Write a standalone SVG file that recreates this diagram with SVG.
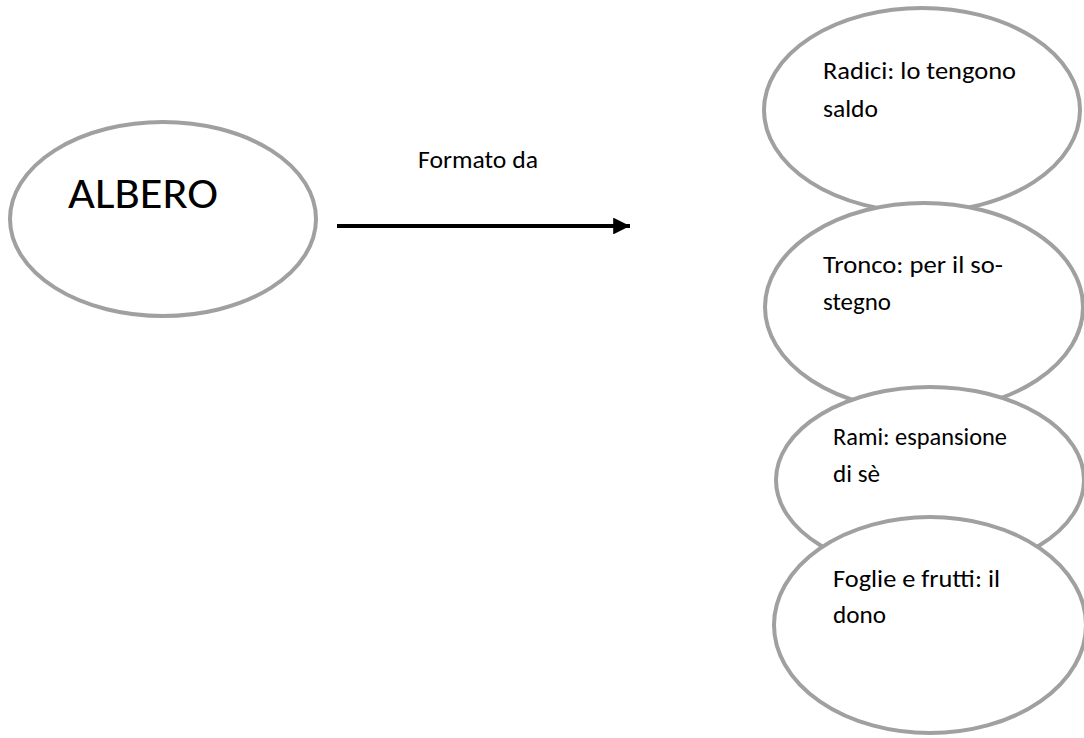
<svg xmlns="http://www.w3.org/2000/svg" width="1084" height="738" viewBox="0 0 1084 738">
<style>
.node{fill:#ffffff;stroke:#a0a0a0;stroke-width:4}
.t{font-family:Carlito,Lato,"Liberation Sans",sans-serif;font-size:24px;fill:#000}
.big{font-size:43px}
</style>
<defs>
<marker id="ah" viewBox="0 0 10 10" refX="10" refY="5" markerWidth="4.2" markerHeight="4.2" markerUnits="strokeWidth" orient="auto">
<path d="M0,0 L10,5 L0,10 z" fill="#000"/>
</marker>
</defs>
<rect width="1084" height="738" fill="#fff"/>
<g id="albero">
<ellipse class="node" cx="163" cy="219" rx="153" ry="97"/>
<text class="t big" x="68" y="208" textLength="150" lengthAdjust="spacingAndGlyphs">ALBERO</text>
</g>
<g id="connectors">
<line x1="337" y1="226" x2="630" y2="226" stroke="#000" stroke-width="4" marker-end="url(#ah)"/>
<text class="t" x="418" y="168" textLength="120" lengthAdjust="spacingAndGlyphs">Formato da</text>
</g>
<g id="radici">
<ellipse class="node" cx="922" cy="110" rx="158" ry="102"/>
<text class="t" x="823" y="79" textLength="193" lengthAdjust="spacingAndGlyphs">Radici: lo tengono</text>
<text class="t" x="823" y="117" textLength="55" lengthAdjust="spacingAndGlyphs">saldo</text>
</g>
<g id="tronco">
<ellipse class="node" cx="924" cy="307" rx="159" ry="104"/>
<text class="t" x="823" y="273" textLength="180" lengthAdjust="spacingAndGlyphs">Tronco: per il so-</text>
<text class="t" x="823" y="310" textLength="68" lengthAdjust="spacingAndGlyphs">stegno</text>
</g>
<g id="rami">
<ellipse class="node" cx="930" cy="480" rx="154" ry="93"/>
<text class="t" x="833" y="445" textLength="174" lengthAdjust="spacingAndGlyphs">Rami: espansione</text>
<text class="t" x="833" y="482" textLength="47" lengthAdjust="spacingAndGlyphs">di sè</text>
</g>
<g id="foglie">
<ellipse class="node" cx="930" cy="625" rx="156" ry="108"/>
<text class="t" x="833" y="587" textLength="167" lengthAdjust="spacingAndGlyphs">Foglie e frutti: il</text>
<text class="t" x="833" y="623" textLength="53" lengthAdjust="spacingAndGlyphs">dono</text>
</g>
</svg>
